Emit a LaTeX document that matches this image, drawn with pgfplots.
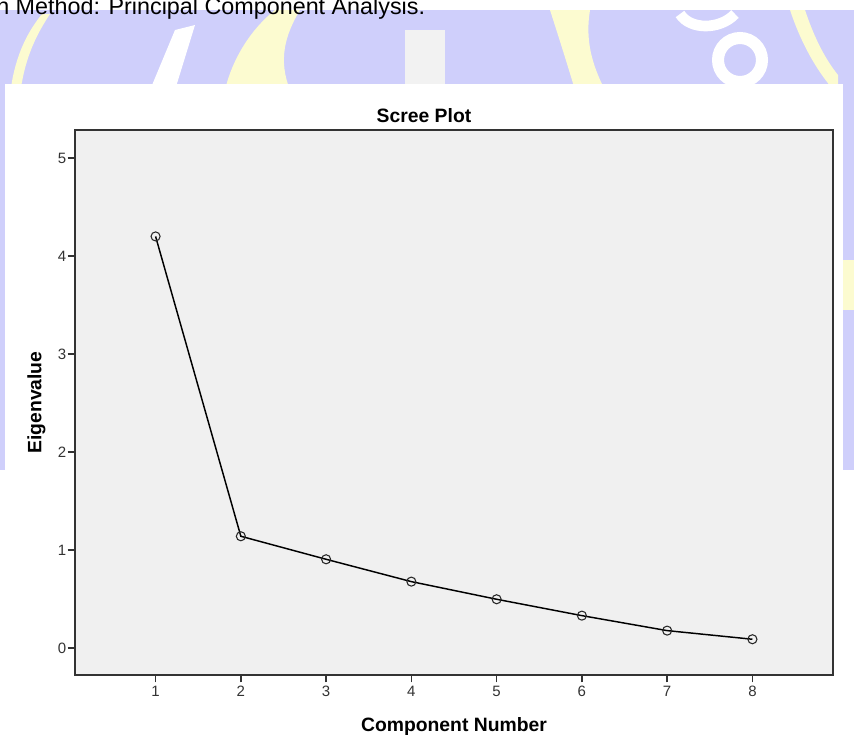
\documentclass[border=0pt]{standalone}
\usepackage{pgfplots}
\pgfplotsset{compat=1.18}
\usepackage{fontspec}
\setmainfont{Liberation Sans}
\definecolor{plotbg}{HTML}{F0F0F0}
\definecolor{wmblue}{HTML}{CFCFFB}
\definecolor{wmyellow}{HTML}{FCFBD0}
\definecolor{axgray}{HTML}{333333}

\pgfplotstableread{
comp eig
1 4.20
2 1.14
3 0.905
4 0.677
5 0.497
6 0.330
7 0.177
8 0.089
}\screedata

\begin{document}
\begin{tikzpicture}
\begin{scope}[x=0.75pt,y=-0.75pt]
  \path[use as bounding box] (0,0) rectangle (854,738);
  \fill[white] (0,0) rectangle (854,738);
  \begin{scope}
    \clip (0,10) rectangle (854,470);
    \fill[wmblue] (0,10) rectangle (854,470);
    % yellow pieces of the watermark
    \fill[wmyellow] (10,95) .. controls (14,60) and (25,35) .. (42,14) -- (50,14) .. controls (34,38) and (24,62) .. (20,95) -- cycle;
    \fill[wmyellow] (225,90) .. controls (232,60) and (250,30) .. (275,10) -- (300,10) .. controls (285,35) and (278,60) .. (290,90) -- cycle;
    \fill[wmyellow] (550,10) -- (590,10) .. controls (585,40) and (592,65) .. (605,90) -- (575,90) .. controls (566,60) and (558,35) .. cycle;
    \fill[wmyellow] (790,10) -- (805,10) .. controls (815,40) and (826,60) .. (838,75) -- (838,95) .. controls (815,70) and (800,40) .. cycle;
    \fill[wmyellow] (843,260) rectangle (854,310);
    % white pieces of the watermark
    \fill[white!90!gray] (405,30) rectangle (445,90);
    \fill[white] (150,90) -- (175,30) -- (195,25) -- (175,90) -- cycle;
    \draw[white, line width=9pt] (740,60) circle (22);
    \draw[white, line width=8pt] (680,14) .. controls (690,30) and (720,30) .. (735,14);
  \end{scope}
  \fill[white] (5,84) rectangle (843,738);
  % cut-off caption above the chart
  \node[anchor=base west, inner sep=0pt, font=\fontsize{17.5}{20}\selectfont] at (-4,14) {n Method: Principal Component Analysis.};
  % chart title
  \node[anchor=base, inner sep=0pt, font=\bfseries\fontsize{14.5}{17}\selectfont] at (424,122) {Scree Plot};
\end{scope}

\begin{axis}[
  at={(56.25pt,-506.25pt)}, anchor=south west,
  width=568.5pt, height=408.75pt, scale only axis,
  xmin=0.055, xmax=8.945, ymin=-0.276, ymax=5.286,
  xtick={1,2,3,4,5,6,7,8}, ytick={0,1,2,3,4,5},
  tick align=outside, tick pos=left,
  major tick length=5.6pt,
  axis background/.style={fill=plotbg},
  axis line style={draw=axgray, line width=1.1pt},
  every tick/.style={draw=axgray, line width=1pt},
  /pgf/number format/assume math mode=true,
  ticklabel style={font=\fontsize{11.25}{13}\selectfont, text=axgray},
  xticklabel style={inner sep=2.5pt},
  yticklabel style={inner sep=0.8pt},
  xlabel={Component Number}, ylabel={Eigenvalue},
  label style={font=\bfseries\fontsize{14.5}{17}\selectfont},
  xlabel style={at={(rel axis cs:0.5,0)}, anchor=base, yshift=-42pt},
  ylabel style={at={(rel axis cs:0,0.5)}, anchor=center, yshift=29pt},
  clip=false,
]
\addplot[black, line width=1.1pt, mark=o, mark size=3.4pt,
  mark options={draw=black!85, line width=0.8pt, fill=none}]
  table[x=comp, y=eig] {\screedata};
\end{axis}
\end{tikzpicture}
\end{document}
